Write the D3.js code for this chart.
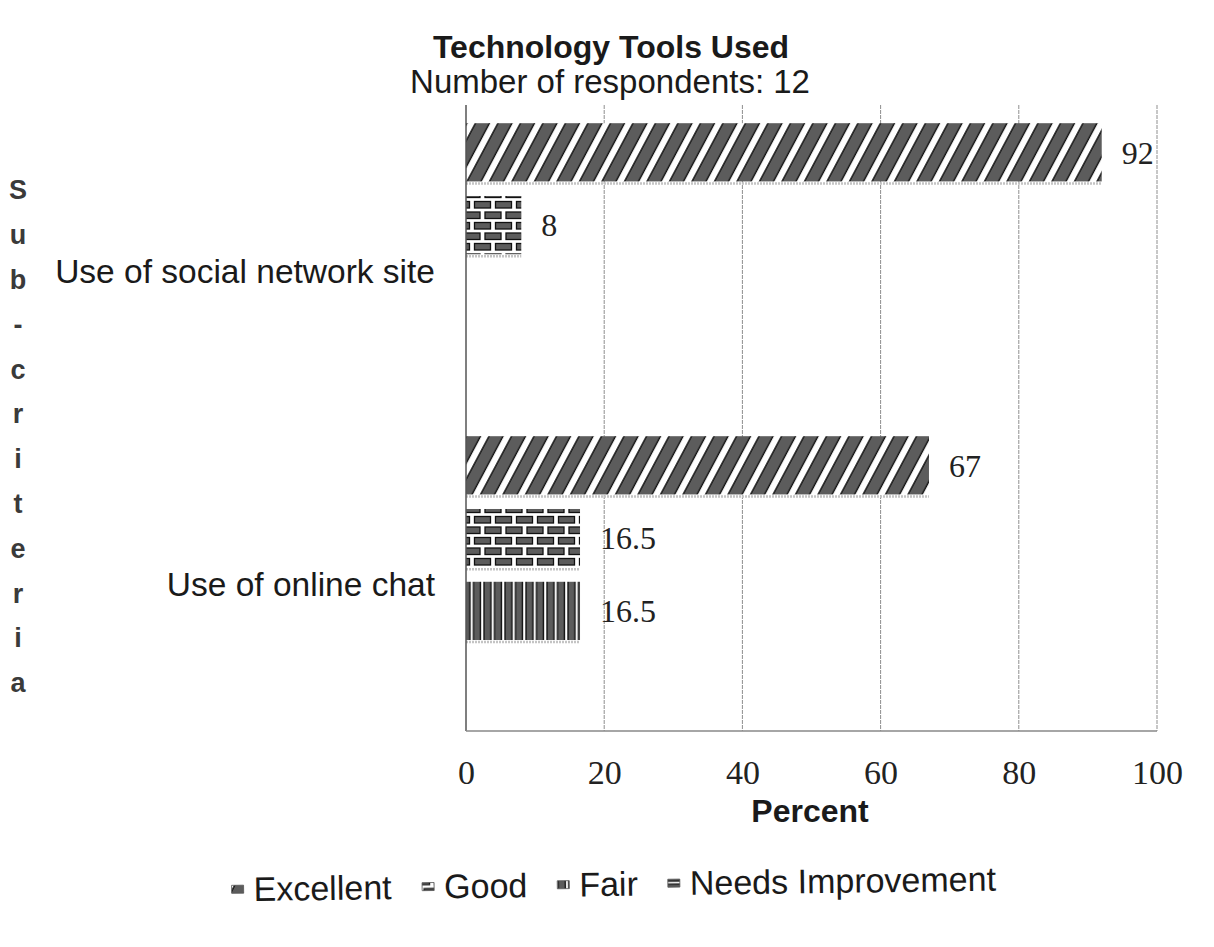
<!DOCTYPE html>
<html><head><meta charset="utf-8">
<script src="https://cdn.jsdelivr.net/npm/d3@7"></script>
<style>html,body{margin:0;padding:0;background:#fff;}svg{display:block;}</style>
</head><body>
<div id="chart"></div>
<script>
// ---- data ----
const categories = ["Use of social network site", "Use of online chat"];
const seriesNames = ["Excellent", "Good", "Fair", "Needs Improvement"];
const excellent = [92, 67];
const good = [8, 16.5];
const fair = [null, 16.5];
const needsImprovement = [null, null];
const xTicks = [0, 20, 40, 60, 80, 100];
const titleText = "Technology Tools Used";
const subtitleText = "Number of respondents: 12";
const xTitle = "Percent";
const yTitle = "Sub-criteria";

const seriesValues = [excellent, good, fair, needsImprovement];
const patternIds = ["pExcellent", "pGood", "pFair", "pNeeds"];

const W = 1214, H = 947;
const svg = d3.select("#chart").append("svg").attr("width", W).attr("height", H);
const defs = svg.append("defs");
const barFill = "#5c5c5c", edge = "#111";

// diagonal stripes
{
  const p = defs.append("pattern").attr("id", "pExcellent").attr("patternUnits", "userSpaceOnUse")
    .attr("width", 22.5).attr("height", 20).attr("patternTransform", "skewX(-28)");
  p.append("rect").attr("x", 0).attr("y", 0).attr("width", 22.5).attr("height", 20).attr("fill", "#fff");
  p.append("rect").attr("x", 1).attr("y", -1).attr("width", 14).attr("height", 22).attr("fill", barFill);
  p.append("line").attr("x1", 1).attr("x2", 1).attr("y1", -1).attr("y2", 21).attr("stroke", edge).attr("stroke-width", 1.6);
  p.append("line").attr("x1", 15).attr("x2", 15).attr("y1", -1).attr("y2", 21).attr("stroke", edge).attr("stroke-width", 1.6);
}
// bricks
{
  const p = defs.append("pattern").attr("id", "pGood").attr("patternUnits", "userSpaceOnUse")
    .attr("width", 21).attr("height", 21);
  p.append("rect").attr("width", 21).attr("height", 21).attr("fill", "#fff");
  const br = [[2, 2], [-8.5, 12.5], [12.5, 12.5]];
  br.forEach(([x, y]) => p.append("rect").attr("x", x).attr("y", y).attr("width", 16).attr("height", 6.5)
    .attr("fill", barFill).attr("stroke", edge).attr("stroke-width", 1.3));
}
// vertical stripes
{
  const p = defs.append("pattern").attr("id", "pFair").attr("patternUnits", "userSpaceOnUse")
    .attr("width", 10.5).attr("height", 10);
  p.append("rect").attr("width", 10.5).attr("height", 10).attr("fill", "#fff");
  p.append("rect").attr("x", 1).attr("y", -1).attr("width", 7).attr("height", 12).attr("fill", barFill);
  p.append("line").attr("x1", 1).attr("x2", 1).attr("y1", -1).attr("y2", 11).attr("stroke", edge).attr("stroke-width", 1.4);
  p.append("line").attr("x1", 8).attr("x2", 8).attr("y1", -1).attr("y2", 11).attr("stroke", edge).attr("stroke-width", 1.4);
}
// horizontal stripes
{
  const p = defs.append("pattern").attr("id", "pNeeds").attr("patternUnits", "userSpaceOnUse")
    .attr("width", 10).attr("height", 9);
  p.append("rect").attr("width", 10).attr("height", 9).attr("fill", "#fff");
  p.append("rect").attr("x", -1).attr("y", 1).attr("width", 12).attr("height", 6).attr("fill", barFill);
  p.append("line").attr("x1", -1).attr("x2", 11).attr("y1", 1).attr("y2", 1).attr("stroke", edge).attr("stroke-width", 1.3);
  p.append("line").attr("x1", -1).attr("x2", 11).attr("y1", 7).attr("y2", 7).attr("stroke", edge).attr("stroke-width", 1.3);
}

const plot = {left: 466, right: 1157, top: 105, bottom: 731};
const x = d3.scaleLinear().domain([0, 100]).range([plot.left, plot.right]);
const y0 = d3.scaleBand().domain(categories).range([plot.top, plot.bottom]).padding(0);
const y1 = d3.scaleBand().domain(seriesNames).range([0, y0.bandwidth()]).paddingInner(0.2).paddingOuter(0.25);

// gridlines
svg.append("g").selectAll("line").data(xTicks.slice(1)).join("line")
  .attr("x1", d => x(d)).attr("x2", d => x(d)).attr("y1", plot.top).attr("y2", plot.bottom)
  .attr("stroke", "#8f8f8f").attr("stroke-width", 1).attr("stroke-dasharray", "4,1");

// bars
const rows = [];
categories.forEach((c, i) => seriesNames.forEach((s, j) => {
  const v = seriesValues[j][i];
  if (v !== null && v !== undefined) rows.push({c, s, v, j});
}));
const bars = svg.append("g");
bars.selectAll("rect.bar").data(rows).join("rect").attr("class", "bar")
  .attr("x", x(0)).attr("y", d => y0(d.c) + y1(d.s))
  .attr("width", d => x(d.v) - x(0)).attr("height", y1.bandwidth())
  .attr("fill", d => `url(#${patternIds[d.j]})`);
// faint shadow strip under bars (as in the print)
bars.selectAll("line.sh").data(rows).join("line").attr("class", "sh")
  .attr("x1", x(0)).attr("x2", d => x(d.v))
  .attr("y1", d => y0(d.c) + y1(d.s) + y1.bandwidth() + 2)
  .attr("y2", d => y0(d.c) + y1(d.s) + y1.bandwidth() + 2)
  .attr("stroke", "#c4c4c4").attr("stroke-width", 2.5).attr("stroke-dasharray", "2,1");

// data labels
svg.append("g").selectAll("text").data(rows).join("text")
  .attr("x", d => x(d.v) + 20).attr("y", d => y0(d.c) + y1(d.s) + y1.bandwidth() / 2)
  .attr("dy", "0.35em")
  .attr("font-family", "'Liberation Serif','Times New Roman',serif").attr("font-size", 32).attr("fill", "#222")
  .text(d => d.v);

// axis frame
svg.append("line").attr("x1", plot.left).attr("x2", plot.left).attr("y1", plot.top).attr("y2", plot.bottom)
  .attr("stroke", "#555").attr("stroke-width", 1.5);
svg.append("line").attr("x1", plot.left).attr("x2", plot.right).attr("y1", plot.bottom).attr("y2", plot.bottom)
  .attr("stroke", "#888").attr("stroke-width", 1.5);

// x axis labels
const xAxis = d3.axisBottom(x).tickValues(xTicks).tickSize(0).tickPadding(29);
const gx = svg.append("g").attr("transform", `translate(0,${plot.bottom})`).call(xAxis);
gx.select(".domain").remove();
gx.selectAll("text").attr("font-family", "'Liberation Serif','Times New Roman',serif")
  .attr("font-size", 34).attr("fill", "#222");

// category labels
svg.append("g").selectAll("text").data(categories).join("text")
  .attr("x", 435).attr("y", d => y0(d) + y0.bandwidth() / 2 + 10)
  .attr("dy", "0.35em").attr("text-anchor", "end")
  .attr("font-family", "'Liberation Sans',Arial,sans-serif").attr("font-size", 33.5).attr("fill", "#1a1a1a")
  .text(d => d);

// y title stacked letters
svg.append("g").selectAll("text").data(yTitle.split("")).join("text")
  .attr("x", 18).attr("y", (d, i) => 190 + i * 44.8).attr("dy", "0.35em")
  .attr("text-anchor", "middle")
  .attr("font-family", "'Liberation Sans',Arial,sans-serif").attr("font-weight", "bold")
  .attr("font-size", 27).attr("fill", "#3a3a3a").text(d => d);

// titles
svg.append("text").attr("x", 611).attr("y", 58).attr("text-anchor", "middle")
  .attr("font-family", "'Liberation Sans',Arial,sans-serif").attr("font-weight", "bold")
  .attr("font-size", 32).attr("fill", "#1a1a1a").text(titleText);
svg.append("text").attr("x", 610).attr("y", 93).attr("text-anchor", "middle")
  .attr("font-family", "'Liberation Sans',Arial,sans-serif")
  .attr("font-size", 33).attr("fill", "#1a1a1a").text(subtitleText);
svg.append("text").attr("x", 810).attr("y", 822).attr("text-anchor", "middle")
  .attr("font-family", "'Liberation Sans',Arial,sans-serif").attr("font-weight", "bold")
  .attr("font-size", 32).attr("fill", "#1a1a1a").text(xTitle);

// legend
const lg = svg.append("g").attr("transform", "rotate(-0.8,614,880)");
const items = lg.selectAll("g").data(seriesNames).join("g");
items.append("rect").attr("width", 12).attr("height", 8).attr("y", -4)
  .attr("fill", (d, i) => `url(#${patternIds[i]})`).attr("stroke", "#555").attr("stroke-width", 0.8);
items.append("text").attr("x", 22).attr("dy", "0.35em")
  .attr("font-family", "'Liberation Sans',Arial,sans-serif").attr("font-size", 34).attr("fill", "#1a1a1a")
  .text(d => d);
let widths = [];
items.each(function () { widths.push(this.getBBox().width); });
const gap = 30;
const total = d3.sum(widths) + gap * (widths.length - 1);
let cx = 614 - total / 2;
items.attr("transform", (d, i) => { const t = `translate(${cx},884)`; cx += widths[i] + gap; return t; });
</script>
</body></html>
